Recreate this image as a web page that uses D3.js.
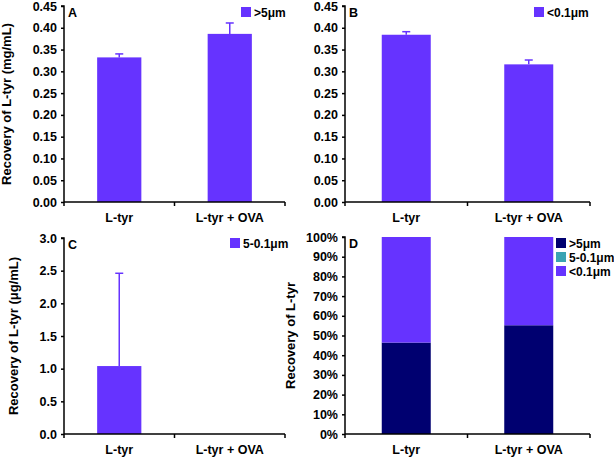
<!DOCTYPE html>
<html><head><meta charset="utf-8">
<script src="https://cdn.jsdelivr.net/npm/d3@7"></script>
<style>body{margin:0;background:#fff}svg{display:block}text{font-family:"Liberation Sans",Arial,sans-serif;font-weight:bold;fill:#000}</style>
</head><body>
<script>
const categories = ["L-tyr", "L-tyr + OVA"];
const valuesA = [0.332, 0.386];
const errorsA = [0.008, 0.025];
const valuesB = [0.384, 0.316];
const errorsB = [0.007, 0.010];
const valuesC = [1.04, 0];
const errorsC = [1.42, 0];
const stackSeries = [">5μm", "5-0.1μm", "<0.1μm"];
const stackGt5 = [0.464, 0.552];
const stackMid = [0.0, 0.0];
const stackLt01 = [0.536, 0.448];
const ticksAB = [0, 0.05, 0.10, 0.15, 0.20, 0.25, 0.30, 0.35, 0.40, 0.45];
const ticksC = [0, 0.5, 1.0, 1.5, 2.0, 2.5, 3.0];
const ticksD = [0, 0.1, 0.2, 0.3, 0.4, 0.5, 0.6, 0.7, 0.8, 0.9, 1.0];

const PURPLE = "#6633ff", NAVY = "#000070", TEAL = "#3aa3b3";
const svg = d3.select("body").append("svg").attr("width", 614).attr("height", 457);

function panel(o) {
  const g = svg.append("g");
  const x = d3.scaleBand().domain(categories).range([o.x0, o.x1]).paddingInner(0.6).paddingOuter(0.3);
  const y = d3.scaleLinear().domain(o.domain).range([o.y1, o.y0]);
  if (o.stack) {
    const rows = categories.map((c, i) => ({cat: c, ">5μm": stackGt5[i], "5-0.1μm": stackMid[i], "<0.1μm": stackLt01[i]}));
    const st = d3.stack().keys(stackSeries)(rows);
    const cols = [NAVY, TEAL, PURPLE];
    st.forEach((s, k) => {
      g.selectAll(null).data(s).enter().append("rect")
        .attr("x", d => x(d.data.cat)).attr("width", x.bandwidth())
        .attr("y", d => y(d[1])).attr("height", d => Math.max(0, y(d[0]) - y(d[1])))
        .attr("fill", cols[k]);
    });
  } else {
    g.selectAll(null).data(o.values).enter().append("rect")
      .attr("x", (d, i) => x(categories[i])).attr("width", x.bandwidth())
      .attr("y", d => y(d)).attr("height", d => o.y1 - y(d)).attr("fill", PURPLE);
    o.values.forEach((v, i) => {
      if (!o.errors[i]) return;
      const cx = x(categories[i]) + x.bandwidth() / 2;
      g.append("line").attr("x1", cx).attr("x2", cx).attr("y1", y(v)).attr("y2", y(v + o.errors[i])).attr("stroke", PURPLE).attr("stroke-width", 1.5);
      g.append("line").attr("x1", cx - 4).attr("x2", cx + 4).attr("y1", y(v + o.errors[i])).attr("y2", y(v + o.errors[i])).attr("stroke", PURPLE).attr("stroke-width", 1.5);
    });
  }
  const ya = d3.axisLeft(y).tickValues(o.ticks).tickFormat(o.fmt).tickSize(3).tickPadding(4);
  const yg = g.append("g").attr("transform", `translate(${o.x0},0)`).call(ya);
  yg.select(".domain").attr("stroke", "#000").attr("stroke-width", 1.5).attr("d", `M-3,${o.y0}H0V${o.y1}`);
  yg.selectAll(".tick line").attr("stroke", "#000").attr("stroke-width", 1.5);
  yg.selectAll("text").style("font-size", "12.5px").attr("fill", "#000");
  const xg = g.append("g").attr("transform", `translate(0,${o.y1})`);
  xg.append("line").attr("x1", o.x0).attr("x2", o.x1).attr("stroke", "#000").attr("stroke-width", 1.5);
  [o.x0, (o.x0 + o.x1) / 2, o.x1].forEach(t => xg.append("line").attr("x1", t).attr("x2", t).attr("y1", 0).attr("y2", 4).attr("stroke", "#000").attr("stroke-width", 1.5));
  categories.forEach(c => xg.append("text").attr("x", x(c) + x.bandwidth() / 2).attr("y", 20).attr("text-anchor", "middle").style("font-size", "12.5px").text(c));
  g.append("text").attr("x", o.x0 + 4).attr("y", o.y0 + 11).style("font-size", "12.5px").text(o.letter);
  if (o.title) g.append("text").attr("transform", `translate(${o.tx},${(o.y0 + o.y1) / 2}) rotate(-90)`).attr("text-anchor", "middle").style("font-size", "13px").text(o.title);
  o.legend.forEach((it, i) => {
    g.append("rect").attr("x", o.lx).attr("y", o.ly + i * 14).attr("width", 10).attr("height", 10).attr("fill", it.c);
    g.append("text").attr("x", o.lx + 13).attr("y", o.ly + i * 14 + 9.5).style("font-size", "12px").text(it.t);
  });
}

const f2 = d3.format(".2f"), f1 = d3.format(".1f"), fp = d3.format(".0%");
panel({x0: 64, x1: 285, y0: 6, y1: 202, domain: [0, 0.45], ticks: ticksAB, fmt: f2, values: valuesA, errors: errorsA, letter: "A",
  title: "Recovery of L-tyr (mg/mL)", tx: 11, legend: [{c: PURPLE, t: ">5μm"}], lx: 241, ly: 7});
panel({x0: 345, x1: 590, y0: 6, y1: 202, domain: [0, 0.45], ticks: ticksAB, fmt: f2, values: valuesB, errors: errorsB, letter: "B",
  legend: [{c: PURPLE, t: "<0.1μm"}], lx: 534, ly: 7});
panel({x0: 64, x1: 285, y0: 238, y1: 434, domain: [0, 3.0], ticks: ticksC, fmt: f1, values: valuesC, errors: errorsC, letter: "C",
  title: "Recovery of L-tyr (μg/mL)", tx: 18, legend: [{c: PURPLE, t: "5-0.1μm"}], lx: 230, ly: 238});
panel({x0: 345, x1: 590, y0: 237, y1: 434, domain: [0, 1.0], ticks: ticksD, fmt: fp, stack: true, letter: "D",
  title: "Recovery of L-tyr", tx: 295, legend: stackSeries.map((t, i) => ({c: [NAVY, TEAL, PURPLE][i], t})), lx: 556, ly: 238});
</script>
</body></html>
